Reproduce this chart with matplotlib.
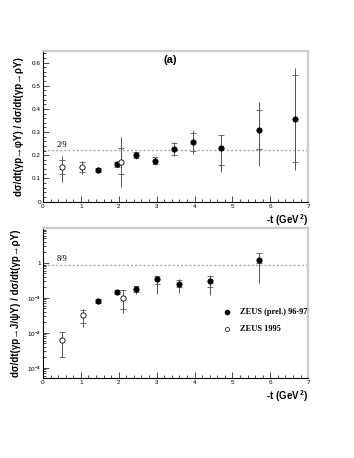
"""
Ratios of vector meson to rho photoproduction cross sections vs -t
"""

# %% Imports

import math

import matplotlib
matplotlib.use('Agg')
import matplotlib.pyplot as plt
from matplotlib.ticker import MultipleLocator, LogLocator, FuncFormatter, NullFormatter


# %% Data

# phi / rho, ZEUS (prel.) 96-97
phi_t = [1.45, 1.95, 2.45, 2.95, 3.45, 3.95, 4.7, 5.7, 6.65]
phi_r = [0.136, 0.160, 0.200, 0.176, 0.226, 0.258, 0.229, 0.310, 0.357]
phi_stat_up = [0.010, 0.010, 0.012, 0.015, 0.025, 0.040, 0.058, 0.084, 0.188]
phi_stat_dn = [0.010, 0.010, 0.012, 0.015, 0.025, 0.040, 0.070, 0.085, 0.188]
phi_tot_up = [0.012, 0.012, 0.015, 0.018, 0.030, 0.053, 0.058, 0.120, 0.220]
phi_tot_dn = [0.012, 0.012, 0.015, 0.020, 0.030, 0.053, 0.101, 0.156, 0.221]

# phi / rho, ZEUS 1995
phi95_t = [0.5, 1.02, 2.05]
phi95_r = [0.147, 0.150, 0.172]
phi95_stat_up = [0.032, 0.020, 0.058]
phi95_stat_dn = [0.028, 0.022, 0.054]
phi95_tot_up = [0.049, 0.025, 0.108]
phi95_tot_dn = [0.062, 0.030, 0.108]

# J/psi / rho, ZEUS (prel.) 96-97
psi_t = [1.45, 1.95, 2.45, 3.0, 3.6, 4.4, 5.7]
psi_r = [0.081, 0.147, 0.180, 0.347, 0.25, 0.30, 1.22]
psi_stat_lo = [0.070, 0.125, 0.150, 0.250, 0.20, 0.20, 1.00]
psi_stat_hi = [0.090, 0.170, 0.220, 0.430, 0.33, 0.42, 1.94]
psi_tot_lo = [0.068, 0.120, 0.130, 0.128, 0.14, 0.117, 0.266]
psi_tot_hi = [0.092, 0.172, 0.225, 0.430, 0.35, 0.46, 1.94]

# J/psi / rho, ZEUS 1995
psi95_t = [0.5, 1.05, 2.12]
psi95_r = [0.0063, 0.0327, 0.100]
psi95_stat_lo = [0.0021, 0.0195, 0.048]
psi95_stat_hi = [0.0104, 0.045, 0.163]
psi95_tot_lo = [0.0020, 0.0145, 0.037]
psi95_tot_hi = [0.0104, 0.048, 0.163]

phi_line = 2 / 9
psi_line = 8 / 9


# %% Style

plt.rcParams['font.family'] = ['Liberation Sans', 'DejaVu Sans']
plt.rcParams['mathtext.fontset'] = 'custom'
plt.rcParams['mathtext.rm'] = 'Liberation Sans:bold'
plt.rcParams['mathtext.bf'] = 'Liberation Sans:bold'

ecol = '#555555'


def style_axes(ax):
    """ROOT like frame"""
    for s in ['top', 'right']:
        ax.spines[s].set_color('#cccccc')
        ax.spines[s].set_linewidth(1.6)
    for s in ['left', 'bottom']:
        ax.spines[s].set_linewidth(0.8)
    ax.tick_params(which='both', direction='in', top=False, right=False,
                   labelsize=4.6, width=0.5, pad=1.5)
    ax.tick_params(which='major', length=4)
    ax.tick_params(which='minor', length=2)
    ax.set_xlim(0, 7)
    ax.xaxis.set_major_locator(MultipleLocator(1))
    ax.xaxis.set_minor_locator(MultipleLocator(0.2))
    ax.text(1.0, -0.072, '-t (GeV$^{\\,2}$)', transform=ax.transAxes,
            fontsize=7, fontweight='bold', ha='right', va='top')


def draw(ax, t, r, slo, shi, tlo, thi, filled):
    # total error, no caps
    ax.errorbar(t, r, yerr=[tlo, thi], fmt='none', ecolor=ecol,
                elinewidth=0.7, capsize=0, zorder=2)
    # statistical error, with ticks
    ax.errorbar(t, r, yerr=[slo, shi], fmt='none', ecolor=ecol,
                elinewidth=0.7, capsize=2, capthick=0.6, zorder=2)
    ax.plot(t, r, 'o', ms=3.8, mec='black', mew=0.6,
            mfc='black' if filled else 'white', zorder=3)


def log_label(v, p):
    if abs(v - 1) < 1e-9:
        return '1'
    if v > 1:
        return ''
    return '10$^{%d}$' % round(math.log10(v))


# %% Figure

fig = plt.figure(figsize=(3.54, 4.58), dpi=100)

# top panel: phi / rho
ax1 = fig.add_axes([0.1215, 0.56, 0.749, 0.3286])
draw(ax1, phi_t, phi_r, phi_stat_dn, phi_stat_up, phi_tot_dn, phi_tot_up, True)
draw(ax1, phi95_t, phi95_r, phi95_stat_dn, phi95_stat_up,
     phi95_tot_dn, phi95_tot_up, False)
ax1.axhline(phi_line, color='#aaaaaa', ls=(0, (1.5, 1.5)), lw=1.0, zorder=1)
ax1.text(0.35, phi_line + 0.005, '2/9', family='Liberation Serif',
         fontsize=6, va='bottom')
ax1.set_ylim(0, 0.65)
ax1.yaxis.set_major_locator(MultipleLocator(0.1))
ax1.yaxis.set_minor_locator(MultipleLocator(0.02))
ax1.yaxis.set_major_formatter(FuncFormatter(
    lambda v, p: '0' if abs(v) < 1e-9 else '%.1f' % v))
style_axes(ax1)
ax1.text(0.48, 0.94, '(a)', transform=ax1.transAxes, fontsize=8,
         fontweight='bold', ha='center', va='center')
ax1.set_ylabel('dσ/dt(γp→φY) / dσ/dt(γp→ρY)',
               fontsize=7, fontweight='bold', labelpad=6)

# bottom panel: J/psi / rho
ax2 = fig.add_axes([0.1215, 0.1753, 0.749, 0.327])
draw(ax2, psi_t, psi_r,
     [r - l for r, l in zip(psi_r, psi_stat_lo)],
     [h - r for r, h in zip(psi_r, psi_stat_hi)],
     [r - l for r, l in zip(psi_r, psi_tot_lo)],
     [h - r for r, h in zip(psi_r, psi_tot_hi)], True)
draw(ax2, psi95_t, psi95_r,
     [r - l for r, l in zip(psi95_r, psi95_stat_lo)],
     [h - r for r, h in zip(psi95_r, psi95_stat_hi)],
     [r - l for r, l in zip(psi95_r, psi95_tot_lo)],
     [h - r for r, h in zip(psi95_r, psi95_tot_hi)], False)
ax2.axhline(psi_line, color='#aaaaaa', ls=(0, (1.5, 1.5)), lw=1.0, zorder=1)
ax2.text(0.35, psi_line * 1.12, '8/9', family='Liberation Serif',
         fontsize=6, va='bottom')
ax2.set_yscale('log')
ax2.set_ylim(5.2e-4, 10)
ax2.yaxis.set_major_locator(LogLocator(base=10, numticks=10))
ax2.yaxis.set_minor_locator(LogLocator(base=10, subs=range(2, 10), numticks=20))
ax2.yaxis.set_minor_formatter(NullFormatter())
ax2.yaxis.set_major_formatter(FuncFormatter(log_label))
style_axes(ax2)
ax2.set_ylabel('dσ/dt(γp→J/ψY) / dσ/dt(γp→ρY)',
               fontsize=7, fontweight='bold', labelpad=4)

# legend
ax2.plot([4.85], [0.04], 'o', ms=3, mfc='black', mec='black')
ax2.plot([4.85], [0.0125], 'o', ms=3, mfc='white', mec='black', mew=0.5)
ax2.text(5.2, 0.04, 'ZEUS (prel.) 96-97', family='Liberation Serif',
         fontweight='bold', fontsize=6, va='center')
ax2.text(5.2, 0.0125, 'ZEUS 1995', family='Liberation Serif',
         fontweight='bold', fontsize=6, va='center')

fig.savefig('out.png', dpi=100)
